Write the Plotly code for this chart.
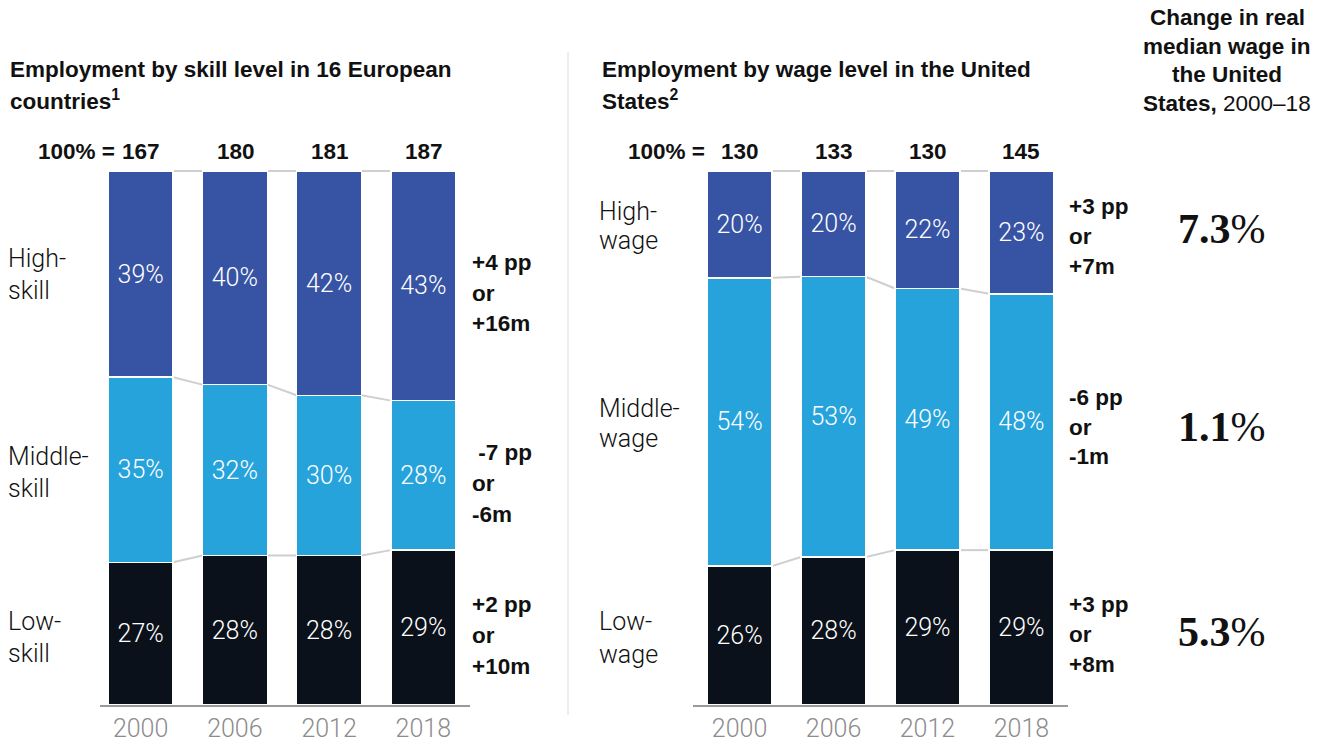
import plotly.graph_objects as go

# ---- data ----
years = ["2000", "2006", "2012", "2018"]

eu_totals = [167, 180, 181, 187]          # millions employed (100% =)
eu_high = [39, 40, 42, 43]
eu_middle = [35, 32, 30, 28]
eu_low = [27, 28, 28, 29]

us_totals = [130, 133, 130, 145]
us_high = [20, 20, 22, 23]
us_middle = [54, 53, 49, 48]
us_low = [26, 28, 29, 29]

eu_labels = ["High-<br>skill", "Middle-<br>skill", "Low-<br>skill"]
us_labels = ["High-<br>wage", "Middle-<br>wage", "Low-<br>wage"]

eu_changes = [["+4 pp", "or", "+16m"], [" -7 pp", "or", "-6m"], ["+2 pp", "or", "+10m"]]
us_changes = [["+3 pp", "or", "+7m"], ["-6 pp", "or", "-1m"], ["+3 pp", "or", "+8m"]]

wage_change = ["7.3", "1.1", "5.3"]

# ---- style ----
W, H = 1336, 745
C_HIGH = "#3753A4"
C_MID = "#27A3DC"
C_LOW = "#0B111A"
C_CONN = "#cfcfcf"
BOLD = "Liberation Sans"
LIGHT = "Roboto"
SERIF = "Liberation Serif"
INK = "#111111"
BSIZE = 22.5
LSIZE = 25


def px(x):
    return x / W


def py(y):
    return 1 - y / H


fig = go.Figure()

panels = [
    ("x", "y", eu_low, eu_middle, eu_high),
    ("x2", "y2", us_low, us_middle, us_high),
]

for xa, ya, low, mid, high in panels:
    for vals, col in [(low, C_LOW), (mid, C_MID), (high, C_HIGH)]:
        fig.add_trace(go.Bar(
            x=years, y=vals, xaxis=xa, yaxis=ya,
            marker=dict(color=col, line=dict(color="white", width=1.5)),
            text=vals, texttemplate="%{text}%",
            textposition="inside", insidetextanchor="middle",
            textangle=0,
            textfont=dict(family=LIGHT, size=LSIZE, color="white", weight=300),
            showlegend=False, hoverinfo="skip",
        ))

    # connector lines between neighbouring bars at every segment boundary
    half = (1 - 0.309) / 2
    cum = []
    for i in range(len(years)):
        tot = low[i] + mid[i] + high[i]
        cum.append([100 * low[i] / tot, 100 * (low[i] + mid[i]) / tot, 100.0])
    for i in range(len(years) - 1):
        for k in range(3):
            fig.add_shape(type="line", xref=xa, yref=ya,
                          x0=i + half, x1=i + 1 - half,
                          y0=cum[i][k], y1=cum[i + 1][k],
                          line=dict(color=C_CONN, width=2), layer="below")

# plot area reaches a few px above the bar tops so the top connectors are not clipped
Y_TOP = 100 * (705 - 166) / (705 - 171)

tick_font = dict(family=LIGHT, size=LSIZE, color="#8c8c8c", weight=300)
fig.update_layout(
    width=W, height=H,
    margin=dict(l=0, r=0, t=0, b=0),
    paper_bgcolor="white", plot_bgcolor="white",
    barmode="stack", barnorm="percent", bargap=0.309,
    showlegend=False,
    xaxis=dict(domain=[px(100), px(470)], range=[-0.431, 3.495],
               showline=True, linecolor="#9a9a9a", linewidth=2,
               ticks="", showgrid=False, zeroline=False, tickfont=tick_font),
    xaxis2=dict(domain=[px(693), px(1068)], range=[-0.495, 3.495],
                showline=True, linecolor="#9a9a9a", linewidth=2,
                ticks="", showgrid=False, zeroline=False, tickfont=tick_font,
                anchor="y2"),
    yaxis=dict(domain=[py(705), py(166)], range=[0, Y_TOP], visible=False),
    yaxis2=dict(domain=[py(705), py(166)], range=[0, Y_TOP], visible=False,
                anchor="x2"),
)

ann = []


def text(x, y, s, size=BSIZE, family=BOLD, color=INK, anchor="left", weight=None):
    f = dict(family=family, size=size, color=color)
    if weight is not None:
        f["weight"] = weight
    ann.append(dict(xref="paper", yref="paper", x=px(x), y=py(y),
                    xanchor=anchor, yanchor="middle", showarrow=False,
                    text=s, font=f))


# panel titles
text(8, 70, "<b>Employment by skill level in 16 European</b>")
text(8, 100, "<b>countries<sup>1</sup></b>")
text(600, 70, "<b>Employment by wage level in the United</b>")
text(600, 100, "<b>States<sup>2</sup></b>")

# right-hand header
for yy, s in zip([17, 46, 75, 104],
                 ["<b>Change in real</b>", "<b>median wage in</b>",
                  "<b>the United</b>", "<b>States,</b> 2000–18"]):
    text(1227, yy, s, anchor="center")

# 100% = totals
eu_centers = [140.5, 235.5, 329.5, 423.5]
us_centers = [739.5, 833.5, 927.5, 1021.5]
text(117, 151, "<b>100% =</b>", anchor="right")
text(707, 151, "<b>100% =</b>", anchor="right")
for c, v in zip(eu_centers, eu_totals):
    text(c, 151, f"<b>{v}</b>", anchor="center")
for c, v in zip(us_centers, us_totals):
    text(c, 151, f"<b>{v}</b>", anchor="center")

# category labels (two lines each)
for lab, (y1, y2) in zip(eu_labels, [(258, 290), (457, 488), (621, 653)]):
    a, b = lab.split("<br>")
    text(6, y1, a, size=LSIZE, family=LIGHT, weight=300)
    text(6, y2, b, size=LSIZE, family=LIGHT, weight=300)
for lab, (y1, y2) in zip(us_labels, [(211, 241), (408, 438), (621, 654)]):
    a, b = lab.split("<br>")
    text(597, y1, a, size=LSIZE, family=LIGHT, weight=300)
    text(597, y2, b, size=LSIZE, family=LIGHT, weight=300)

# change annotations
for lines, y0 in zip(eu_changes, [262, 452, 604]):
    for j, s in enumerate(lines):
        text(470, y0 + 31 * j, f"<b>{s}</b>")
for lines, y0 in zip(us_changes, [206, 397, 604]):
    for j, s in enumerate(lines):
        text(1067, y0 + 30 * j, f"<b>{s}</b>")

# wage change figures: bold digits, light percent sign
for v, yy in zip(wage_change, [229, 427, 632]):
    text(1222, yy,
         f"<b>{v}</b><span style='font-weight:300'>%</span>",
         size=42, family=SERIF, anchor="center", weight=400)

fig.update_layout(annotations=ann)

# divider between the two panels
fig.add_shape(type="line", xref="paper", yref="paper",
              x0=px(568), x1=px(568), y0=py(715), y1=py(52),
              line=dict(color="#dcdcdc", width=1))

fig.write_html("out.html")
